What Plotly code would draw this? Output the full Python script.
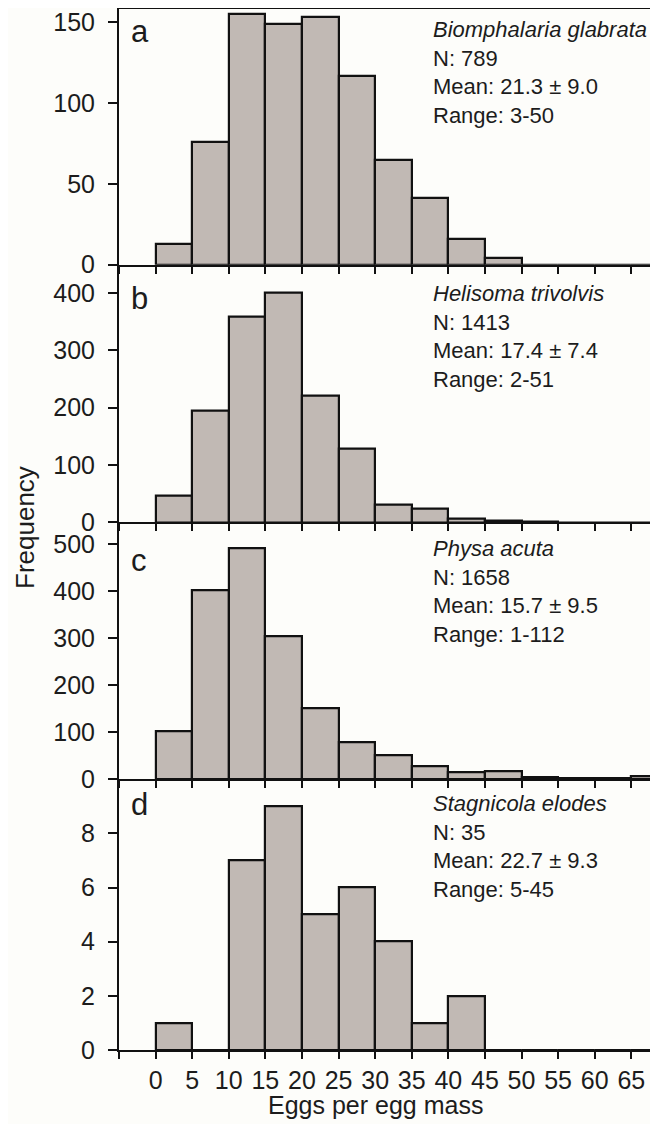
import plotly.graph_objects as go

# The page body has an 8px default margin, so the figure is drawn 8px in
# from the window's top-left corner; geometry below is in window pixels.
OFF = 8
W, H = 650, 1116

# ---- data ----
bin_starts = [0, 5, 10, 15, 20, 25, 30, 35, 40, 45, 50, 55, 60, 65]
bin_width = 5

freq_a = [13, 76, 155, 149, 153, 117, 65, 41, 16, 4, 0, 0, 0, 0]
freq_b = [47, 195, 359, 400, 221, 129, 31, 24, 6, 2, 1, 0, 0, 0]
freq_c = [101, 402, 491, 304, 151, 79, 52, 27, 15, 18, 4, 3, 3, 6]
freq_d = [1, 0, 7, 9, 5, 6, 4, 1, 2, 0, 0, 0, 0, 0]

species = ["Biomphalaria glabrata", "Helisoma trivolvis", "Physa acuta", "Stagnicola elodes"]
n_text = ["789", "1413", "1658", "35"]
mean_text = ["21.3 ± 9.0", "17.4 ± 7.4", "15.7 ± 9.5", "22.7 ± 9.3"]
range_text = ["3-50", "2-51", "1-112", "5-45"]
panel_letters = ["a", "b", "c", "d"]

y_ranges = [[0, 158.8], [0, 449], [0, 546], [0, 10]]
y_ticks = [[0, 50, 100, 150], [0, 100, 200, 300, 400], [0, 100, 200, 300, 400, 500], [0, 2, 4, 6, 8]]

x_tickvals = list(range(-5, 70, 5))
x_ticktext = [""] + [str(v) for v in range(0, 70, 5)]

x_title = "Eggs per egg mass"
y_title = "Frequency"

# ---- layout geometry (window pixels) ----
panel_px = [(8, 264.7), (264.7, 522.3), (522.3, 779.3), (779.3, 1050)]
left_px = 119

def py(p):
    return min(1.0, max(0.0, 1 - (p - OFF) / H))

def px(p):
    return min(1.0, max(0.0, (p - OFF) / W))

FONT = "Liberation Sans, Arial, sans-serif"
TXT = "#1c1c1c"
BG = "#fdfdfa"
FILL = "#c1b9b4"
EDGE = "#111111"

fig = go.Figure()
all_freq = [freq_a, freq_b, freq_c, freq_d]
centers = [s + bin_width / 2 for s in bin_starts]

for i, fr in enumerate(all_freq):
    k = "" if i == 0 else str(i + 1)
    fig.add_trace(go.Bar(
        x=centers, y=fr, width=bin_width,
        marker=dict(color=FILL, line=dict(color=EDGE, width=2.2)),
        xaxis="x" + k, yaxis="y" + k, showlegend=False,
    ))
    top, bot = panel_px[i]
    fig.layout["xaxis" + k] = dict(
        domain=[px(left_px), 1], range=[-5, 68.65], anchor="y" + k,
        automargin=False,
        showline=True, linecolor=EDGE, linewidth=2,
        ticks="outside", ticklen=7, tickwidth=2, tickcolor=EDGE,
        tickvals=x_tickvals, ticktext=x_ticktext, ticklabeloverflow="allow",
        showticklabels=(i == 3), showgrid=False, zeroline=False,
        tickfont=dict(family=FONT, size=25, color=TXT),
    )
    fig.layout["yaxis" + k] = dict(
        domain=[py(bot), py(top)], range=y_ranges[i], anchor="x" + k,
        automargin=False,
        showline=True, linecolor=EDGE, linewidth=2,
        ticks="outside", ticklen=9, tickwidth=2, tickcolor=EDGE,
        ticklabelstandoff=8, ticklabeloverflow="allow",
        tickvals=y_ticks[i], showgrid=False, zeroline=False,
        tickfont=dict(family=FONT, size=25, color=TXT),
    )
    # panel letter
    letter_mid = [32, 298, 560, 804][i]
    fig.add_annotation(
        xref="paper", yref="paper", x=px(129), y=py(letter_mid),
        xanchor="left", yanchor="middle", showarrow=False,
        text=panel_letters[i], font=dict(family=FONT, size=31, color=TXT),
    )
    # stats block
    text_top = [15, 279, 534, 789][i]
    fig.add_annotation(
        xref="paper", yref="paper", x=px(431), y=py(text_top),
        xanchor="left", yanchor="top", align="left", showarrow=False,
        text=("<i>" + species[i] + "</i><br>N: " + n_text[i] + "<br>Mean: "
              + mean_text[i] + "<br>Range: " + range_text[i]),
        font=dict(family=FONT, size=22, color=TXT),
    )

# top frame line of panel a
fig.add_shape(type="line", xref="x", yref="y", x0=-5, x1=68.65,
              y0=y_ranges[0][1], y1=y_ranges[0][1],
              line=dict(color=EDGE, width=2))

fig.add_annotation(xref="paper", yref="paper", x=px(375), y=py(1105),
                   xanchor="center", yanchor="middle", showarrow=False,
                   text=x_title, font=dict(family=FONT, size=25, color=TXT))
fig.add_annotation(xref="paper", yref="paper", x=px(8), y=py(528),
                   xanchor="left", yanchor="middle", showarrow=False, textangle=-90,
                   text=y_title, font=dict(family=FONT, size=26, color=TXT))

fig.update_layout(
    width=W, height=H, margin=dict(l=0, r=0, t=0, b=0),
    paper_bgcolor=BG, plot_bgcolor=BG, bargap=0,
)

fig.write_html("out.html")
